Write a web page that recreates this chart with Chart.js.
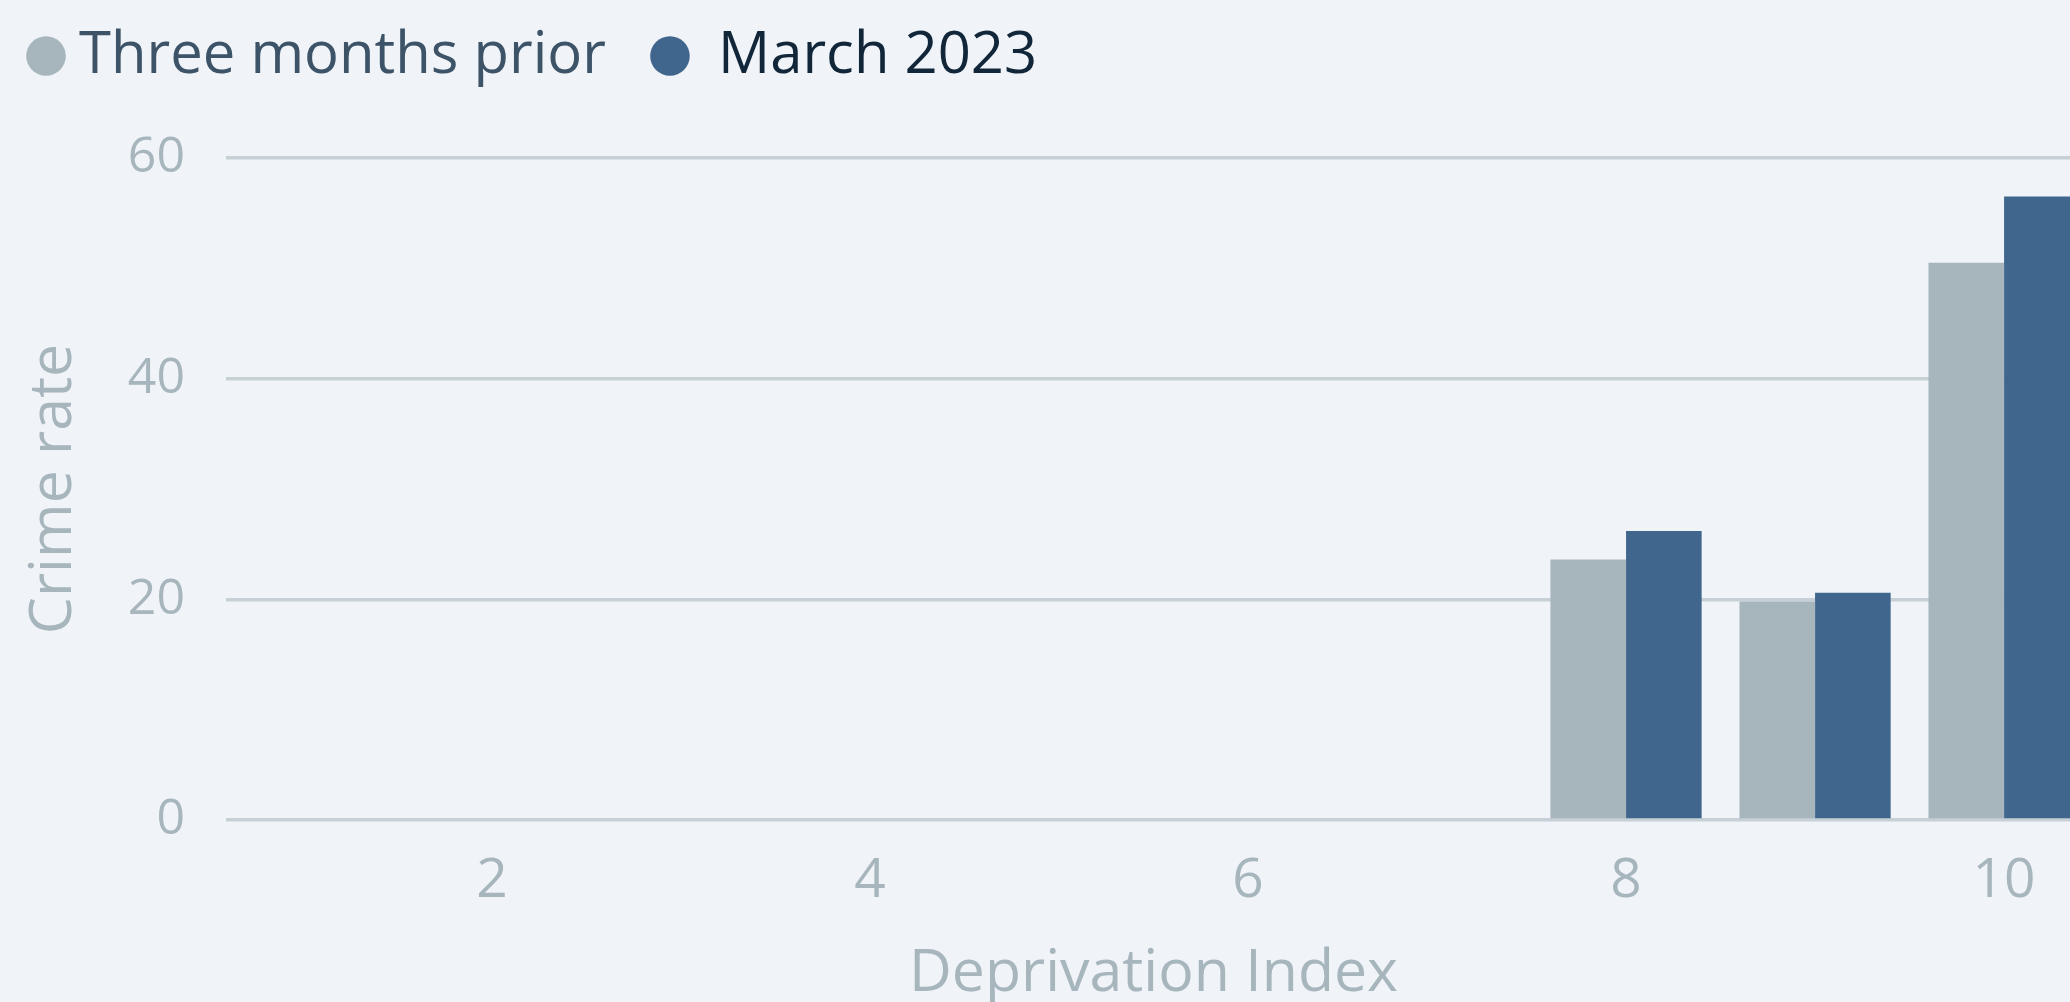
<!DOCTYPE html>
<html>
<head>
<meta charset="utf-8">
<title>Crime rate by deprivation index</title>
<script src="https://cdn.jsdelivr.net/npm/chart.js@4.4.1/dist/chart.umd.min.js"></script>
<style>
  html, body { margin: 0; padding: 0; overflow: hidden; background: #f0f4f8; }
  /* a bit wider than the window: the last group runs off the right edge */
  .chart-wrap { width: 2081px; height: 1002px; }
</style>
</head>
<body>
<div class="chart-wrap"><canvas id="crimeChart"></canvas></div>
<script>
const deciles = [1, 2, 3, 4, 5, 6, 7, 8, 9, 10];
const priorRate = [null, null, null, null, null, null, null, 23.6, 19.8, 50.5];
const marchRate = [null, null, null, null, null, null, null, 26.2, 20.6, 56.5];
const xTicks = [2, 4, 6, 8, 10];
const yTicks = [0, 20, 40, 60];
const seriesNames = ['Three months prior', 'March 2023'];

const greyBar = '#a7b5bd';
const blueBar = '#41668e';
const legendText = ['#3d5368', '#12263a'];
const axisText = '#a7b5bd';
const gridColor = '#c6d0d6';
const fontFamily = '"Open Sans", "Noto Sans", sans-serif';

function points(values) {
  return deciles.map((d, i) => ({ x: d, y: values[i] }));
}

// extra room between the legend and the plot
const legendGap = {
  id: 'legendGap',
  beforeInit(chart) {
    const fit = chart.legend.fit;
    chart.legend.fit = function () {
      fit.call(this);
      this.height += 63;
    };
  }
};

new Chart(document.getElementById('crimeChart'), {
  type: 'bar',
  data: {
    datasets: [{
      label: seriesNames[0],
      data: points(priorRate),
      backgroundColor: greyBar
    }, {
      label: seriesNames[1],
      data: points(marchRate),
      backgroundColor: blueBar
    }]
  },
  options: {
    responsive: true,
    maintainAspectRatio: false,
    animation: false,
    events: [],
    layout: {
      padding: { left: -18, top: -33, right: 0, bottom: -8 }
    },
    datasets: {
      bar: { barPercentage: 1, categoryPercentage: 0.8 }
    },
    plugins: {
      tooltip: { enabled: false },
      legend: {
        position: 'top',
        align: 'start',
        labels: {
          usePointStyle: true,
          pointStyle: 'circle',
          boxWidth: 8,
          boxHeight: 28,
          padding: 60,
          font: { family: fontFamily, size: 58 },
          generateLabels(chart) {
            const items = Chart.defaults.plugins.legend.labels.generateLabels(chart);
            items.forEach((item, i) => {
              item.fontColor = legendText[i];
              // second label sits a little further from its dot
              if (i > 0) item.text = ' ' + item.text;
            });
            return items;
          }
        }
      }
    },
    scales: {
      x: {
        type: 'linear',
        offset: false,
        min: 0.593,
        max: 10.407,
        afterBuildTicks(scale) {
          scale.ticks = xTicks.map(v => ({ value: v }));
        },
        afterFit(scale) { scale.height = 190; },
        grid: { display: false, drawTicks: false },
        border: { display: false },
        ticks: {
          color: axisText,
          padding: 28,
          font: { family: fontFamily, size: 55 }
        },
        title: {
          display: true,
          text: 'Deprivation Index',
          color: axisText,
          padding: { top: 0, bottom: 0 },
          font: { family: fontFamily, size: 59 }
        }
      },
      y: {
        min: yTicks[0],
        max: yTicks[yTicks.length - 1],
        afterBuildTicks(scale) {
          scale.ticks = yTicks.map(v => ({ value: v }));
        },
        afterFit(scale) { scale.width = 244; },
        grid: { color: gridColor, lineWidth: 3.5, drawTicks: false },
        border: { display: false },
        ticks: {
          color: axisText,
          padding: 41,
          font: { family: fontFamily, size: 50 }
        },
        title: {
          display: true,
          text: 'Crime rate',
          color: axisText,
          padding: { top: 37, bottom: 0 },
          font: { family: fontFamily, size: 59 }
        }
      }
    }
  },
  plugins: [legendGap]
});
</script>
</body>
</html>
